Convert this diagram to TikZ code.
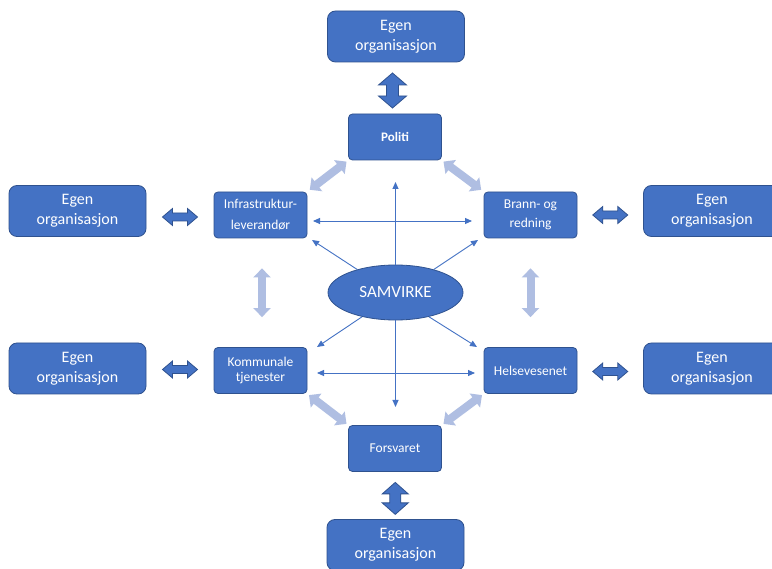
\documentclass[tikz,border=0pt]{standalone}
\usepackage{fontspec}
\setmainfont{Carlito}
\usetikzlibrary{arrows.meta,calc,shapes.geometric}
\definecolor{boxblue}{HTML}{4472C4}
\definecolor{boxedge}{HTML}{2F528F}
\definecolor{lightarr}{HTML}{AFBEE2}
\tikzset{
  egen/.style={draw=boxedge, fill=boxblue, rounded corners=8pt, minimum width=137pt, minimum height=51pt,
    text=white, align=center, font=\fontsize{16}{20}\selectfont, inner sep=0pt, line width=0.8pt},
  unit/.style={draw=boxedge, fill=boxblue, rounded corners=4pt, minimum width=93pt, minimum height=46pt,
    text=white, align=center, font=\fontsize{13.5}{15.5}\selectfont, inner sep=0pt, line width=0.8pt},
  link/.style={draw=boxblue, line width=0.9pt, -{Triangle[length=7pt,width=6pt]}},
  linkboth/.style={draw=boxblue, line width=0.9pt, {Triangle[length=7pt,width=6pt]}-{Triangle[length=7pt,width=6pt]}},
  light/.style={draw=lightarr, line width=8pt, {Triangle[length=9pt,width=17pt]}-{Triangle[length=9pt,width=17pt]}},
  dark/.style={draw=boxedge, fill=boxblue, line width=0.8pt},
  pics/barrow/.style n args={4}{code={
    \path[pic actions] (-#1,0) -- (-#1+#4,-#2) -- (-#1+#4,-#3) -- (#1-#4,-#3) -- (#1-#4,-#2) -- (#1,0)
      -- (#1-#4,#2) -- (#1-#4,#3) -- (-#1+#4,#3) -- (-#1+#4,#2) -- cycle;}}
}
\begin{document}
\begin{tikzpicture}[x=1pt,y=-1pt]
\useasboundingbox (0,0) rectangle (772,569);
\fill[white] (0,0) rectangle (772,569);

% outer boxes
\node[egen] (eT)  at (396,36.5)    {Egen\\organisasjon};
\node[egen] (eL1) at (77.5,211)    {Egen\\organisasjon};
\node[egen] (eR1) at (712,211)     {Egen\\organisasjon};
\node[egen] (eL2) at (77.5,368.5)  {Egen\\organisasjon};
\node[egen] (eR2) at (712,368.5)   {Egen\\organisasjon};
\node[egen] (eB)  at (395.5,545)   {Egen\\organisasjon};

% units
\node[unit, font=\fontsize{13}{15}\selectfont\bfseries] (politi) at (395,137) {Politi};
\node[unit, font=\fontsize{13.5}{21}\selectfont] (infra) at (260.5,215) {Infrastruktur-\\leverandør};
\node[unit, font=\fontsize{13.5}{19}\selectfont] (brann) at (530.5,215) {Brann- og\\redning};
\node[unit] (kommune) at (260.5,370.5) {Kommunale\\tjenester};
\node[unit] (helse) at (530.5,370.5) {Helsevesenet};
\node[unit] (forsvar) at (395,448.5) {Forsvaret};

% centre
\node[ellipse, draw=boxedge, fill=boxblue, line width=0.8pt, minimum width=135pt, minimum height=55pt,
  inner sep=0pt, text=white, font=\fontsize{17}{20}\selectfont] (samvirke) at (395.5,292.5) {SAMVIRKE};

% free ends of the thin arrows
\coordinate (vtop) at (395.5,182);
\coordinate (vbot) at (395.5,407);
\coordinate (h1a) at (313,221);
\coordinate (h1b) at (472,221);
\coordinate (h2a) at (317,373);
\coordinate (h2b) at (475,373);
\coordinate (d1) at (312,240);
\coordinate (d2) at (478,240);
\coordinate (d3) at (317,347);
\coordinate (d4) at (477,347);

\draw[link] (samvirke.north) -- (vtop);
\draw[link] (samvirke.south) -- (vbot);
\draw[linkboth] (h1a) -- (h1b);
\draw[linkboth] (h2a) -- (h2b);
\draw[link] (samvirke.149) -- (d1);
\draw[link] (samvirke.31) -- (d2);
\draw[link] (samvirke.216) -- (d3);
\draw[link] (samvirke.324) -- (d4);

% light arrows between units
\draw[light, shorten <=2pt, shorten >=3pt] (politi.south west) -- (infra.north east);
\draw[light, shorten <=2pt, shorten >=3pt] (politi.south east) -- (brann.north west);
\draw[light] ($(infra.south)+(1.5,30)$) -- ($(kommune.north)+(1.5,-30)$);
\draw[light] ($(brann.south)+(0,30)$) -- ($(helse.north)+(0,-30)$);
\draw[light, shorten <=2pt, shorten >=2pt] (kommune.south east) -- (forsvar.north west);
\draw[light, shorten <=2pt, shorten >=2pt] (helse.south west) -- (forsvar.north east);

% dark block arrows to own organisations
\pic[dark, rotate=90] at ($(politi.north)!0.5!(eT.south)+(-3,2.5)$) {barrow={17.5}{14}{6}{12}};
\pic[dark, rotate=90] at ($(forsvar.south)!0.5!(eB.south)+(0,-23)$) {barrow={16}{13}{5.5}{11.5}};
\pic[dark] at ($(eL1.east)!0.5!(infra.west)+(0,4)$) {barrow={17.5}{8.5}{4}{10}};
\pic[dark] at ($(eL2.east)!0.5!(kommune.west)+(0,0)$) {barrow={17.5}{8.5}{4}{10}};
\pic[dark] at ($(brann.east)!0.5!(eR1.west)+(0,2)$) {barrow={17.5}{8.5}{4}{10}};
\pic[dark] at ($(helse.east)!0.5!(eR2.west)+(0,2)$) {barrow={17.5}{8.5}{4}{10}};
\end{tikzpicture}
\end{document}
